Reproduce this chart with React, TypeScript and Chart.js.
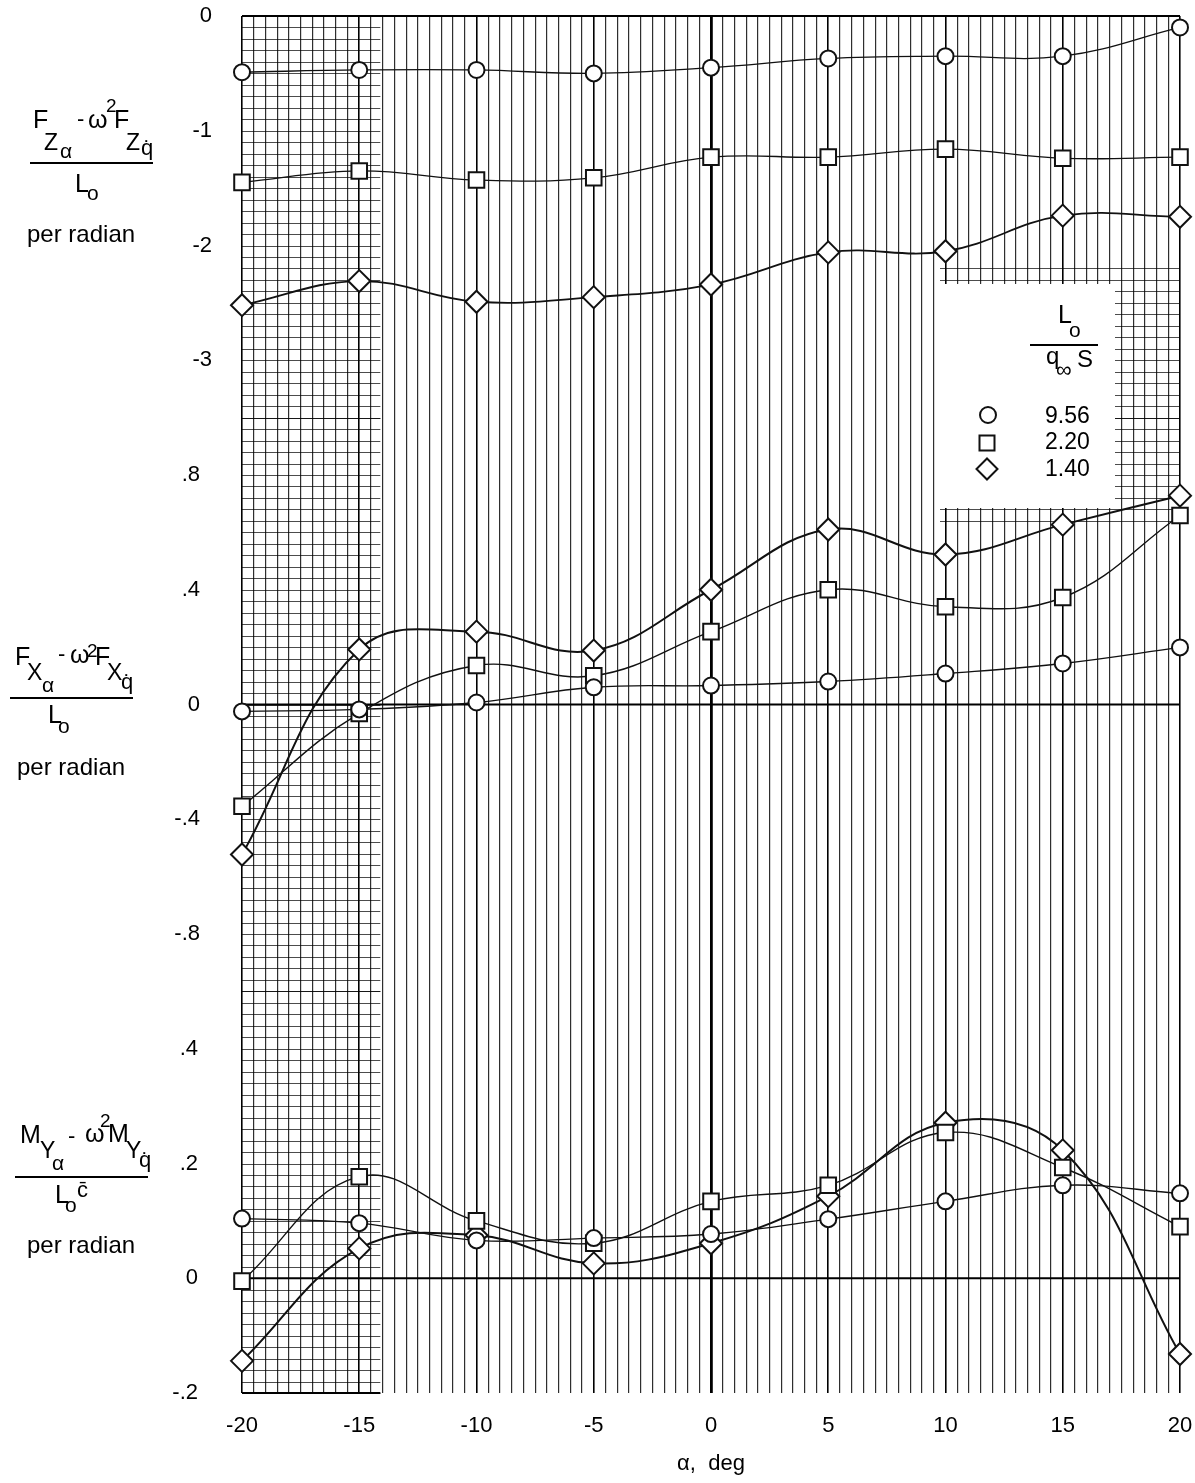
import React, { useEffect, useRef } from 'react';
import { Chart, registerables } from 'chart.js';

Chart.register(...registerables);

const FONT = "'Liberation Sans', Arial, sans-serif";

// Angle of attack, deg
const alpha = [-20, -15, -10, -5, 0, 5, 10, 15, 20];
// L0 / (q_inf S) for the three series (circle, square, diamond)
const loqsValues = ['9.56', '2.20', '1.40'];

// (F_Z_alpha - w^2 F_Z_qdot) / L0, per radian
const fzCircle = [-0.49, -0.47, -0.47, -0.5, -0.45, -0.37, -0.35, -0.35, -0.1];
const fzSquare = [-1.45, -1.35, -1.43, -1.41, -1.23, -1.23, -1.16, -1.24, -1.23];
const fzDiamond = [-2.52, -2.31, -2.49, -2.45, -2.34, -2.06, -2.05, -1.74, -1.75];

// (F_X_alpha - w^2 F_X_qdot) / L0, per radian
const fxCircle = [-0.024, -0.017, 0.007, 0.06, 0.066, 0.08, 0.108, 0.143, 0.199];
const fxSquare = [-0.355, -0.031, 0.136, 0.1, 0.254, 0.4, 0.341, 0.373, 0.659];
const fxDiamond = [-0.523, 0.192, 0.254, 0.188, 0.4, 0.61, 0.523, 0.627, 0.728];

// (M_Y_alpha - w^2 M_Y_qdot) / (L0 cbar), per radian
const myCircle = [0.104, 0.096, 0.066, 0.07, 0.077, 0.103, 0.134, 0.162, 0.148];
const mySquare = [-0.005, 0.177, 0.1, 0.061, 0.134, 0.162, 0.254, 0.193, 0.09];
const myDiamond = [-0.144, 0.052, 0.075, 0.026, 0.061, 0.143, 0.271, 0.223, -0.132];

// Axis tick labels and ranges
const alphaTicks = [-20, -15, -10, -5, 0, 5, 10, 15, 20];
const fzTicks = [0, -1, -2, -3];
const fxTicks = [0.8, 0.4, 0, -0.4, -0.8];
const myTicks = [0.4, 0.2, 0, -0.2];
const fzRange = [-3.5, 0];
const fxRange = [-1, 1];
const myRange = [-0.2, 0.5];

// graph-paper vertical rules every half degree
const paperAlpha: number[] = [];
for (let i = 0; i <= 80; i++) paperAlpha.push(-20 + i * 0.5);

const fmt = (v: number) => (v === 0 ? '0' : String(v).replace(/^(-?)0\./, '$1.'));

const INK = '#111';

function series(values: number[], axis: string, style: string, radius: number, width: number) {
  return {
    data: alpha.map((a, i) => ({ x: a, y: values[i] })),
    yAxisID: axis,
    borderColor: INK,
    borderWidth: width,
    pointStyle: style,
    pointRadius: radius,
    pointBorderWidth: 2,
    pointBorderColor: INK,
    pointBackgroundColor: '#fff',
    tension: 0.4,
    fill: false,
    clip: false as any,
  };
}

function yScale(range: number[], ticks: number[], weight: number, stackWeight: number, pad: number) {
  return {
    type: 'linear' as const,
    position: 'left' as const,
    stack: 'panels',
    stackWeight,
    weight,
    min: range[0],
    max: range[1],
    afterBuildTicks: (s: any) => {
      s.ticks = ticks.map((v) => ({ value: v }));
    },
    afterFit: (s: any) => {
      s.width = 242;
      s.paddingTop = 0;
      s.paddingBottom = 0;
    },
    ticks: { padding: pad, color: '#000', font: { size: 22 }, callback: (v: any) => fmt(Number(v)) },
    grid: { display: false },
    border: { display: false },
  };
}

function marker(ctx: CanvasRenderingContext2D, style: string, x: number, y: number, r: number) {
  ctx.beginPath();
  if (style === 'circle') {
    ctx.arc(x, y, r, 0, Math.PI * 2);
  } else if (style === 'rect') {
    ctx.rect(x - r, y - r, 2 * r, 2 * r);
  } else {
    ctx.moveTo(x, y - r);
    ctx.lineTo(x + r, y);
    ctx.lineTo(x, y + r);
    ctx.lineTo(x - r, y);
    ctx.closePath();
  }
  ctx.fillStyle = '#fff';
  ctx.fill();
  ctx.stroke();
}

const paperPlugin = {
  id: 'paper',
  beforeDatasetsDraw(chart: any) {
    const { ctx, chartArea: a, scales } = chart;
    const sx = scales.x;
    const bandL = sx.getPixelForValue(-14.1);
    const bandR = 940;
    ctx.save();
    ctx.strokeStyle = 'rgba(0,0,0,0.7)';
    ctx.lineWidth = 1;
    const panels: [string, number][] = [
      ['yTop', 0.1],
      ['yMid', 0.04],
      ['yBot', 0.02],
    ];
    for (const [id, step] of panels) {
      const s = scales[id];
      const n = Math.round((s.max - s.min) / step);
      for (let i = 0; i <= n; i++) {
        const y = Math.round(s.getPixelForValue(s.min + i * step)) + 0.5;
        ctx.beginPath();
        ctx.moveTo(a.left, y);
        ctx.lineTo(bandL, y);
        if (y > 268 && y < 528) {
          ctx.moveTo(bandR, y);
          ctx.lineTo(a.right, y);
        }
        ctx.stroke();
      }
    }
    ctx.strokeStyle = '#000';
    ctx.lineWidth = 2;
    const hline = (x0: number, x1: number, y: number) => {
      ctx.beginPath();
      ctx.moveTo(x0, y);
      ctx.lineTo(x1, y);
      ctx.stroke();
    };
    hline(a.left, a.right, scales.yMid.getPixelForValue(0));
    hline(a.left, a.right, scales.yBot.getPixelForValue(0));
    hline(a.left, a.right, a.top);
    hline(a.left, bandL, a.bottom);

    // key box
    ctx.fillStyle = '#fff';
    ctx.fillRect(940, 284, 175, 224);
    ctx.strokeStyle = INK;
    ctx.lineWidth = 2;
    marker(ctx, 'circle', 988, 415, 8);
    marker(ctx, 'rect', 987, 443, 7.5);
    marker(ctx, 'rectRot', 987, 469, 10.5);
    ctx.restore();
  },
};

type Piece = [string, number, number, number]; // text, left, baseline, font size
type Rule = [number, number, number]; // left, y, width

const fzLabel: Piece[] = [
  ['F', 33, 128, 25],
  ['Z', 44, 150, 23],
  ['α', 60, 158, 21],
  ['-', 77, 127, 22],
  ['ω', 88, 128, 25],
  ['2', 106, 112, 19],
  ['F', 114, 128, 25],
  ['Z', 126, 150, 23],
  ['q\u0307', 141, 156, 22],
  ['L', 75, 192, 25],
  ['o', 87, 200, 21],
  ['per radian', 27, 242, 24],
];
const fxLabel: Piece[] = [
  ['F', 15, 665, 25],
  ['X', 27, 680, 23],
  ['α', 42, 692, 21],
  ['-', 58, 662, 22],
  ['ω', 70, 663, 25],
  ['2', 87, 657, 19],
  ['F', 95, 665, 25],
  ['X', 107, 680, 23],
  ['q\u0307', 121, 690, 22],
  ['L', 48, 723, 25],
  ['o', 58, 733, 21],
  ['per radian', 17, 775, 24],
];
const myLabel: Piece[] = [
  ['M', 20, 1143, 25],
  ['Y', 40, 1158, 23],
  ['α', 52, 1170, 21],
  ['-', 68, 1144, 22],
  ['ω', 85, 1142, 25],
  ['2', 100, 1127, 19],
  ['M', 108, 1142, 25],
  ['Y', 126, 1158, 23],
  ['q\u0307', 139, 1168, 22],
  ['L', 55, 1203, 25],
  ['o', 65, 1212, 21],
  ['c\u0304', 77, 1198, 22],
  ['per radian', 27, 1253, 24],
];
const keyLabel: Piece[] = [
  ['L', 1058, 323, 25],
  ['o', 1069, 337, 21],
  ['q', 1046, 364, 24],
  ['∞', 1056, 378, 22],
  ['S', 1077, 367, 24],
  ...loqsValues.map((t, i) => [t, 1045, [423, 449, 476][i], 23] as Piece),
];
const rules: Rule[] = [
  [30, 163, 123],
  [10, 698, 123],
  [15, 1177, 133],
  [1030, 345, 68],
];

export default function App() {
  const ref = useRef<HTMLCanvasElement>(null);

  useEffect(() => {
    Chart.defaults.font.family = FONT;
    Chart.defaults.color = '#000';
    const chart = new Chart(ref.current as HTMLCanvasElement, {
      type: 'line',
      data: {
        datasets: [
          series(fzCircle, 'yTop', 'circle', 8, 1.3),
          series(fzSquare, 'yTop', 'rect', 11, 1.3),
          series(fzDiamond, 'yTop', 'rectRot', 11, 1.8),
          series(fxCircle, 'yMid', 'circle', 8, 1.4),
          series(fxSquare, 'yMid', 'rect', 11, 1.4),
          series(fxDiamond, 'yMid', 'rectRot', 11, 2),
          series(myCircle, 'yBot', 'circle', 8, 1.4),
          series(mySquare, 'yBot', 'rect', 11, 1.4),
          series(myDiamond, 'yBot', 'rectRot', 11, 2),
        ] as any,
      },
      options: {
        responsive: false,
        animation: false,
        devicePixelRatio: 1,
        layout: { padding: { left: 0, top: 16, right: 15, bottom: 0 } },
        plugins: { legend: { display: false }, tooltip: { enabled: false } },
        scales: {
          x: {
            type: 'linear',
            min: -20,
            max: 20,
            afterBuildTicks: (s: any) => {
              s.ticks = paperAlpha.map((v) => ({ value: v }));
            },
            afterFit: (s: any) => {
              s.height = 90;
              s.paddingLeft = 0;
              s.paddingRight = 0;
            },
            ticks: {
              autoSkip: false,
              maxRotation: 0,
              padding: 20,
              color: '#000',
              font: { size: 22 },
              callback: (v: any) => (alphaTicks.includes(Number(v)) ? String(v) : ''),
            },
            grid: {
              drawTicks: false,
              color: (c: any) => (c.tick && c.tick.value % 5 === 0 ? '#000' : 'rgba(0,0,0,0.82)'),
              lineWidth: (c: any) => {
                const v = c.tick ? c.tick.value : 1;
                if (v === 0) return 2.8;
                return v % 5 === 0 ? 1.6 : 1.2;
              },
            },
            border: { display: false },
            title: {
              display: true,
              text: 'α,  deg',
              color: '#000',
              font: { size: 22 },
              padding: { top: 4, bottom: 6 },
            },
          },
          yTop: yScale(fzRange, fzTicks, 3, 3.5, 22),
          yMid: yScale(fxRange, fxTicks, 2, 5, 34),
          yBot: yScale(myRange, myTicks, 1, 3.5, 36),
        } as any,
      },
      plugins: [paperPlugin],
    });
    return () => chart.destroy();
  }, []);

  const piece = (p: Piece, k: string) => (
    <span
      key={k}
      style={{
        position: 'absolute',
        left: p[1],
        top: p[2] - 0.846 * p[3],
        fontSize: p[3],
        lineHeight: 1,
        whiteSpace: 'pre',
      }}
    >
      {p[0]}
    </span>
  );

  return (
    <div
      style={{
        position: 'absolute',
        left: 0,
        top: 0,
        width: 1195,
        height: 1483,
        background: '#fff',
        fontFamily: FONT,
        color: '#000',
        overflow: 'hidden',
      }}
    >
      <canvas ref={ref} width={1195} height={1483} style={{ position: 'absolute', left: 0, top: 0 }} />
      {fzLabel.map((p, i) => piece(p, 'z' + i))}
      {fxLabel.map((p, i) => piece(p, 'x' + i))}
      {myLabel.map((p, i) => piece(p, 'm' + i))}
      {keyLabel.map((p, i) => piece(p, 'k' + i))}
      {rules.map((r, i) => (
        <div
          key={'r' + i}
          style={{ position: 'absolute', left: r[0], top: r[1] - 1, width: r[2], height: 2, background: '#000' }}
        />
      ))}
    </div>
  );
}
